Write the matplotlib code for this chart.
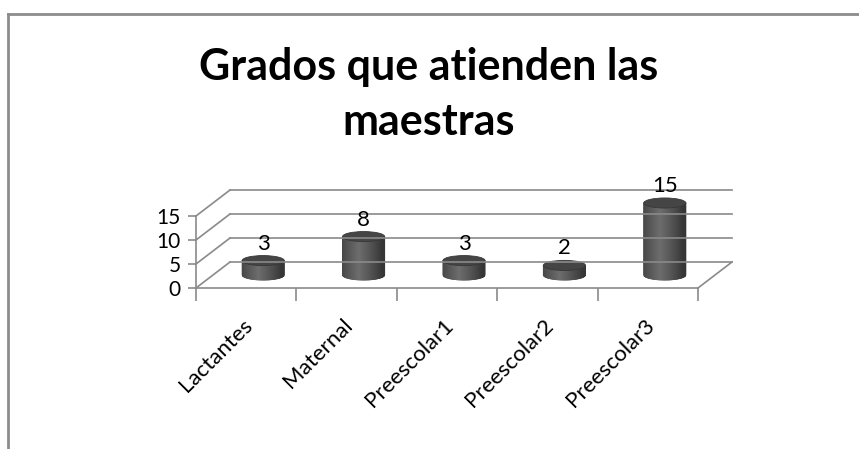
import numpy as np
import matplotlib
matplotlib.use("Agg")
import matplotlib.pyplot as plt
from matplotlib.patches import Ellipse
from matplotlib.collections import PolyCollection
from matplotlib.lines import Line2D
from matplotlib.transforms import offset_copy

# datos del grafico
categorias = ["Lactantes", "Maternal", "Preescolar1", "Preescolar2", "Preescolar3"]
valores = [3, 8, 3, 2, 15]
marcas_y = [0, 5, 10, 15]
titulo = ["Grados que atienden las", "maestras"]

plt.rcParams['font.family'] = ['Lato', 'DejaVu Sans']

W, H = 859, 449
fig = plt.figure(figsize=(W / 100, H / 100), dpi=100)
fig.patch.set_facecolor("white")

# borde del area del grafico (solo arriba e izquierda visibles)
gris_borde = "#8c8c8c"
fig.add_artist(Line2D([8 / W, 1], [1 - 14 / H, 1 - 14 / H], color=gris_borde, lw=2))
fig.add_artist(Line2D([8 / W, 8 / W], [0, 1 - 14 / H], color=gris_borde, lw=2))

# titulo en dos lineas
fig.text(429 / W, 1 - 80 / H, titulo[0], ha="center", va="baseline", fontsize=31,
         fontweight="bold", color="black")
fig.text(429 / W, 1 - 135 / H, titulo[1], ha="center", va="baseline", fontsize=31,
         fontweight="bold", color="black")

# ejes: plano frontal del cubo 3D
ax = fig.add_axes([196 / W, 1 - 288 / H, 502 / W, 72 / H])
x0, x1 = -0.5, len(categorias) - 0.5
ax.patch.set_visible(False)
for s in ["top", "right"]:
    ax.spines[s].set_visible(False)
gris = "#8a8a8a"
for s in ["left", "bottom"]:
    ax.spines[s].set_color(gris)
    ax.spines[s].set_linewidth(1.2)

ax.set_yticks(marcas_y)
ax.set_yticklabels([str(v) for v in marcas_y], fontsize=15)
ax.tick_params(axis="y", length=6, color=gris, width=1.2, pad=5)
ax.set_xticks(range(len(categorias)))
ax.set_xticklabels([])
ax.set_xticks(np.arange(x0, x1 + 0.01), minor=True)
ax.tick_params(axis="x", which="major", length=0)
ax.tick_params(axis="x", which="minor", length=9, color=gris, width=1.2)

# desplazamientos de profundidad (px)
DX, DY = 34, 26
fondo = offset_copy(ax.transData, fig=fig, x=DX, y=DY, units="dots")
medio = offset_copy(ax.transData, fig=fig, x=DX / 2, y=DY / 2, units="dots")

# etiquetas de categoria giradas
etiq = offset_copy(ax.transData, fig=fig, x=3, y=-34, units="dots")
for i, c in enumerate(categorias):
    ax.text(i, 0, c, rotation=45, ha="right", va="center", rotation_mode="anchor",
            fontsize=16, transform=etiq, clip_on=False)

# paredes: lineas de fondo y diagonales laterales
for v in marcas_y:
    ax.plot([x0, x1], [v, v], color=gris, lw=1.2, transform=fondo, clip_on=False)
ax.set_xlim(x0, x1)
ax.set_ylim(0, 15)
for v in marcas_y:
    p0 = ax.transData.transform((x0, v))
    fig.add_artist(Line2D([p0[0] / W, (p0[0] + DX) / W], [p0[1] / H, (p0[1] + DY) / H],
                          color=gris, lw=1.2))
p0 = ax.transData.transform((x1, 0))
fig.add_artist(Line2D([p0[0] / W, (p0[0] + DX) / W], [p0[1] / H, (p0[1] + DY) / H],
                      color=gris, lw=1.2))

# cilindros con degradado (tiras verticales)
ancho = 0.21  # semiancho en unidades de datos
eh = 1.05     # semialto de la elipse en unidades de datos
n = 70
t = np.linspace(-1, 1, n + 1)
tm = 0.5 * (t[:-1] + t[1:])
luz = np.clip(1 - np.abs(tm + 0.2) / 1.1, 0, 1) ** 0.9
grises = 0.21 + 0.22 * luz
colores = [(g, g, g) for g in grises]
for i, v in enumerate(valores):
    tiras = []
    for k in range(n):
        a, b = t[k], t[k + 1]
        ya = -eh * np.sqrt(max(0.0, 1 - a * a))
        yb = -eh * np.sqrt(max(0.0, 1 - b * b))
        tiras.append([(i + a * ancho, ya), (i + b * ancho, yb),
                      (i + b * ancho, v), (i + a * ancho, v)])
    pc = PolyCollection(tiras, facecolors=colores, edgecolors=colores, linewidths=0.6,
                        transform=medio, clip_on=False)
    ax.add_collection(pc, autolim=False)
    ax.add_patch(Ellipse((i, v), 2 * ancho, 2 * eh, facecolor="#454545",
                         edgecolor="#373737", lw=0.6, transform=medio, clip_on=False))
    ax.text(i, v, str(v), ha="center", va="baseline", fontsize=16,
            transform=offset_copy(ax.transData, fig=fig, x=DX / 2, y=DY / 2 + 11,
                                  units="dots"))

ax.set_xlim(x0, x1)
ax.set_ylim(0, 15)

fig.savefig("out.png", dpi=100)
